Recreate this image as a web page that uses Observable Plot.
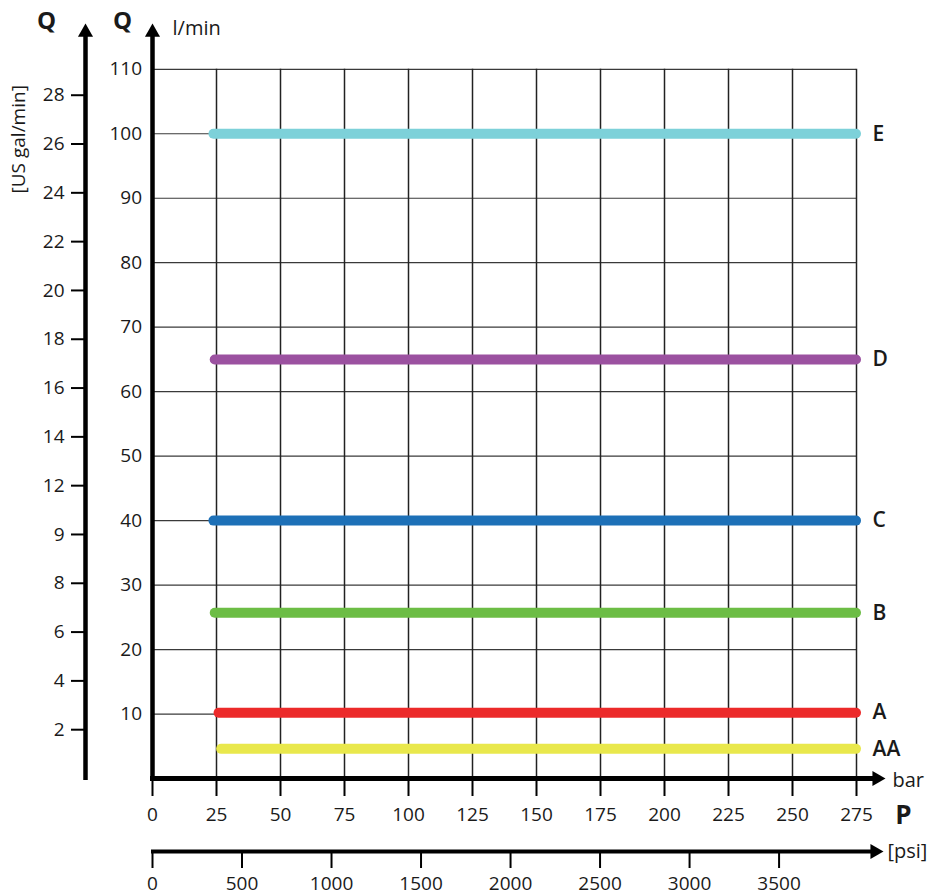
<!DOCTYPE html>
<html>
<head>
<meta charset="utf-8">
<script src="https://cdn.jsdelivr.net/npm/d3@7"></script>
<script src="https://cdn.jsdelivr.net/npm/@observablehq/plot@0.6"></script>
<style>
  html, body { margin: 0; padding: 0; background: #fff; }
  #chart svg { display: block; }
</style>
</head>
<body>
<div id="chart"></div>
<script>
// ---- data ----
const seriesNames = ["E", "D", "C", "B", "A", "AA"];
const seriesFlow = [100, 65, 40, 25.7, 10.2, 4.6];      // l/min
const seriesStart = [24, 24.5, 24, 24.5, 26, 27];        // bar
const seriesEnd = [275, 275, 275, 275, 275, 275];        // bar
const seriesColors = ["#7dd1d9", "#9b51a0", "#1d70b7", "#6cbd45", "#ec2a2a", "#e9e84c"];

const barTicks = [0, 25, 50, 75, 100, 125, 150, 175, 200, 225, 250, 275];
const lminTicks = [10, 20, 30, 40, 50, 60, 70, 80, 90, 100, 110];
const galTickValues = [2, 4, 6, 8, 10, 12, 14, 16, 18, 20, 22, 24, 26, 28];
const galTickLabels = ["2", "4", "6", "8", "9", "12", "14", "16", "18", "20", "22", "24", "26", "28"];
const psiTicks = [0, 500, 1000, 1500, 2000, 2500, 3000, 3500];

const L_PER_GAL = 3.785;
const PSI_PER_BAR = 14.3;

// ---- derived tables ----
const series = seriesNames.map((name, i) => ({
  name, q: seriesFlow[i], start: seriesStart[i], end: seriesEnd[i], color: seriesColors[i]
}));
const galLabelByL = new Map(galTickValues.map((g, i) => [g * L_PER_GAL, galTickLabels[i]]));
const psiLabelByBar = new Map(psiTicks.map(p => [p / PSI_PER_BAR, String(p)]));

const ink = "#1a1a1a";
const tri = {symbol: "triangle2", r: 7.2, fill: "black", stroke: null};
const lbl = {fill: ink, lineAnchor: "middle"};

const chart = Plot.plot({
  width: 929,
  height: 896,
  marginLeft: 152,
  marginRight: 73,
  marginTop: 68.8,
  marginBottom: 118,
  x: {domain: [0, 275]},
  y: {domain: [0, 110]},
  style: {fontFamily: "'Open Sans', sans-serif", fontSize: "19px", color: ink, background: "white"},
  marks: [
    // grid
    Plot.ruleY(lminTicks, {x1: 0, x2: 275, stroke: "#3a3a3a", strokeWidth: 1.2}),
    Plot.ruleX(barTicks.filter(d => d > 0), {y1: 0, y2: 110, stroke: "#222", strokeWidth: 1.5}),

    // series
    Plot.ruleY(series, {y: "q", x1: "start", x2: "end", stroke: "color", strokeWidth: 10, strokeLinecap: "round"}),
    Plot.text(series, {x: "end", y: "q", text: "name", dx: 16, textAnchor: "start", fontSize: 21, fontWeight: 600, ...lbl}),

    // main l/min axis
    Plot.ruleX([0], {stroke: "black", strokeWidth: 4.5, insetTop: -38, insetBottom: -3}),
    Plot.dot([0], {x: d => d, frameAnchor: "top", dy: -37, ...tri}),
    Plot.axisY(lminTicks, {anchor: "left", tickSize: 0, tickPadding: 10.5, fontSize: 19, fill: ink, label: null}),

    // US gal/min axis
    Plot.ruleX([0], {dx: -67, stroke: "black", strokeWidth: 4.5, insetTop: -38, insetBottom: -2}),
    Plot.dot([0], {x: d => d, frameAnchor: "top", dx: -67, dy: -37, ...tri}),
    Plot.axisY(galTickValues.map(g => g * L_PER_GAL), {
      anchor: "left", dx: -67, tickSize: 14, tickPadding: 7, strokeWidth: 2, stroke: "black",
      fontSize: 19, fill: ink, label: null, tickFormat: d => galLabelByL.get(d)
    }),

    // bar axis
    Plot.ruleY([0], {stroke: "black", strokeWidth: 5, insetLeft: -2, insetRight: -20}),
    Plot.dot([0], {y: d => d, frameAnchor: "right", dx: 20.3, rotate: 90, ...tri}),
    Plot.axisX(barTicks, {anchor: "bottom", tickSize: 18, tickPadding: 11, strokeWidth: 2, stroke: "black", fontSize: 19, fill: ink, label: null}),

    // psi axis
    Plot.ruleY([0], {dy: 73, stroke: "black", strokeWidth: 4, insetLeft: -1, insetRight: -18}),
    Plot.dot([0], {y: d => d, frameAnchor: "right", dy: 73, dx: 18.3, rotate: 90, ...tri}),
    Plot.axisX(psiTicks.map(p => p / PSI_PER_BAR), {
      anchor: "bottom", dy: 73, tickSize: 17, tickPadding: 8, strokeWidth: 2, stroke: "black",
      fontSize: 19, fill: ink, label: null, tickFormat: d => psiLabelByBar.get(d)
    }),

    // titles / units
    Plot.text(["Q"], {frameAnchor: "top-left", dx: -106, dy: -48, textAnchor: "middle", fontSize: 24, fontWeight: 700, ...lbl}),
    Plot.text(["Q"], {frameAnchor: "top-left", dx: -30, dy: -48, textAnchor: "middle", fontSize: 24, fontWeight: 700, ...lbl}),
    Plot.text(["l/min"], {frameAnchor: "top-left", dx: 20, dy: -41, textAnchor: "start", fontSize: 20, ...lbl}),
    Plot.text(["[US gal/min]"], {frameAnchor: "top-left", dx: -134, dy: 70, textAnchor: "middle", rotate: -90, fontSize: 19, ...lbl}),
    Plot.text(["bar"], {frameAnchor: "bottom-right", dx: 36, dy: 2, textAnchor: "start", fontSize: 20, ...lbl}),
    Plot.text(["P"], {frameAnchor: "bottom-right", dx: 47, dy: 37, textAnchor: "middle", fontSize: 26, fontWeight: 700, ...lbl}),
    Plot.text(["[psi]"], {frameAnchor: "bottom-right", dx: 31, dy: 73, textAnchor: "start", fontSize: 20, ...lbl})
  ]
});

document.getElementById("chart").append(chart);
</script>
</body>
</html>
